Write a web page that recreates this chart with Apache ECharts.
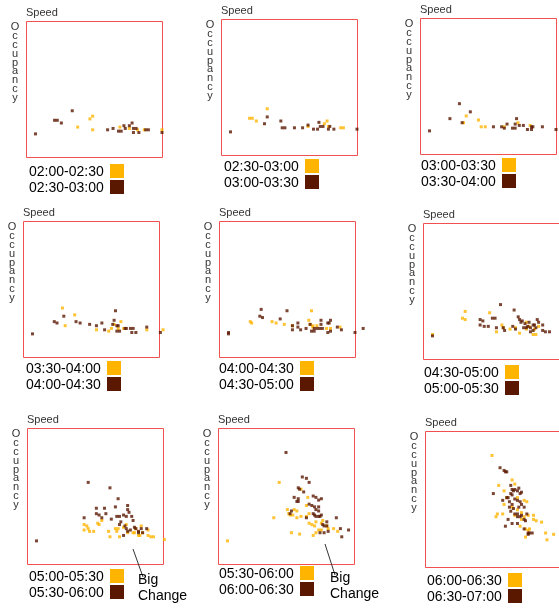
<!DOCTYPE html>
<html>
<head>
<meta charset="utf-8">
<script src="https://cdn.jsdelivr.net/npm/echarts@6/dist/echarts.min.js"></script>
<style>
  html, body { margin: 0; padding: 0; background: #fff; }
  #chart { width: 559px; height: 612px; }
</style>
</head>
<body>
<div id="chart"></div>
<script>
// half-hour periods, each panel compares period i (orange) with i+1 (brown)
const periods = ["02:00-02:30", "02:30-03:00", "03:00-03:30", "03:30-04:00", "04:00-04:30",
  "04:30-05:00", "05:00-05:30", "05:30-06:00", "06:00-06:30", "06:30-07:00"];

const p1First = [[47,28],[49,30],[38,22],[49,20],[69,22],[76,21],[82,20],[87,20],[100,20]];
const p1Second = [[7,17],[21,27],[23,27],[26,25],[34,34],[60,20],[64,21],[68,19],[70,19],[72,23],[73,21],[76,23],[78,25],[79,21],[81,21],[79,18],[83,18],[88,20],[90,20],[100,18]];

const p2First = [[21,27],[23,27],[26,25],[34,34],[64,21],[76,23],[78,25],[79,21],[88,20],[90,20]];
const p2Second = [[7,17],[32,23],[34,28],[44,25],[45,20],[47,20],[54,20],[60,20],[64,22],[68,19],[71,19],[72,24],[73,21],[75,21],[79,19],[80,21],[83,19],[100,19]];

const p3First = [[32,23],[34,28],[43,25],[45,20],[48,20],[62,20],[72,23],[81,21]];
const p3Second = [[7,17],[22,26],[29,37],[31,23],[37,31],[54,20],[60,20],[62,19],[64,22],[68,19],[70,22],[70,19],[71,26],[73,21],[76,21],[79,18],[82,20],[82,18],[83,20],[90,20],[100,18]];

const p4First = [[29,36],[38,31],[31,23],[54,20],[63,19],[65,21],[67,24],[72,26],[70,21],[74,21],[91,20],[103,20]];
const p4Second = [[7,17],[23,26],[25,25],[30,30],[39,26],[42,25],[49,24],[54,23],[58,25],[60,20],[68,34],[67,27],[66,24],[69,23],[70,23],[69,19],[71,19],[75,21],[76,21],[79,21],[81,21],[80,18],[83,18],[91,22],[101,18]];

const p5First = [[23,26],[24,25],[39,26],[42,25],[48,24],[54,23],[66,27],[68,34],[67,24],[69,23],[72,23],[69,22],[79,21],[82,21],[89,22]];
const p5Second = [[7,18],[7,17],[31,35],[30,30],[32,29],[45,28],[50,34],[54,23],[54,20],[58,25],[58,22],[60,20],[64,21],[67,24],[68,19],[70,19],[70,21],[72,21],[74,21],[75,27],[75,24],[76,21],[80,25],[81,25],[82,27],[80,18],[82,19],[87,22],[90,20],[100,18],[106,21]];

const p6First = [[7,18],[31,35],[29,30],[31,29],[49,34],[58,25],[59,23],[54,20],[64,22],[68,23],[71,19],[76,27],[76,22],[78,24],[81,18],[83,18],[82,22],[85,24]];
const p6Second = [[7,17],[57,40],[67,36],[42,29],[44,28],[42,25],[45,24],[48,24],[51,30],[53,30],[54,23],[59,23],[60,21],[66,24],[68,22],[70,31],[71,29],[72,27],[73,28],[74,23],[76,23],[75,26],[77,24],[78,27],[79,23],[81,21],[82,25],[83,23],[84,29],[85,27],[88,25],[88,21],[90,20],[93,20],[79,20],[81,25]];

const p7First = [[42,29],[44,28],[45,26],[42,25],[46,24],[49,24],[52,30],[53,29],[55,32],[60,24],[61,20],[66,24],[67,26],[68,20],[71,27],[73,29],[74,23],[78,23],[79,23],[80,26],[82,21],[83,21],[84,28],[85,23],[89,25],[89,21],[91,20],[93,20],[101,18],[65,26]];
const p7Second = [[7,17],[45,60],[61,56],[67,48],[65,42],[51,41],[57,41],[42,34],[51,37],[53,36],[58,37],[55,34],[62,33],[66,35],[68,35],[71,36],[74,43],[74,40],[75,38],[73,35],[77,35],[78,32],[68,29],[69,31],[72,28],[73,26],[71,21],[74,24],[76,25],[79,27],[80,26],[82,24],[84,26],[82,23],[85,23],[88,26]];

const p8First = [[45,60],[61,55],[66,49],[65,43],[51,40],[52,37],[53,36],[56,40],[58,39],[55,36],[58,34],[61,35],[65,35],[67,37],[41,34],[67,30],[69,29],[71,28],[72,31],[76,30],[77,32],[80,28],[81,26],[85,26],[88,24],[74,25],[72,23],[70,21],[54,23],[60,22],[7,17],[76,25]];
const p8Second = [[50,82],[65,63],[67,60],[62,64],[59,56],[60,55],[63,53],[56,49],[59,48],[59,46],[58,46],[70,50],[72,49],[76,48],[74,47],[67,44],[69,43],[71,42],[72,40],[74,42],[70,37],[71,36],[72,35],[74,35],[75,35],[76,36],[74,39],[65,34],[54,39],[53,37],[87,34],[80,31],[77,29],[78,28],[80,28],[81,24],[78,23],[75,23],[90,26],[91,20],[96,25]];

const p9First = [[50,82],[55,60],[59,56],[61,51],[59,46],[65,64],[67,61],[69,51],[74,49],[76,48],[54,39],[53,37],[58,39],[65,44],[67,38],[72,35],[74,37],[77,38],[81,38],[81,35],[83,34],[87,33],[71,30],[75,28],[77,27],[78,28],[75,22],[90,25],[96,24],[91,20],[72,40],[69,42]];
const p9Second = [[56,73],[59,71],[60,70],[61,70],[51,54],[58,49],[61,51],[62,51],[64,60],[65,57],[66,56],[67,57],[69,56],[64,54],[65,53],[70,58],[63,48],[65,46],[67,50],[69,49],[71,54],[72,55],[71,48],[72,46],[74,44],[63,44],[64,41],[66,43],[67,39],[69,39],[69,37],[71,37],[72,38],[74,35],[62,35],[65,32],[60,30],[69,32],[75,34],[74,28],[77,25],[77,24],[78,25],[80,25],[76,39],[70,44]];

const panelData = [
  [p1First, p1Second], [p2First, p2Second], [p3First, p3Second],
  [p4First, p4Second], [p5First, p5Second], [p6First, p6Second],
  [p7First, p7Second], [p8First, p8Second], [p9First, p9Second]
];

// box position of each small chart, and where its legend starts
const boxes = [
  { left: 26, top: 21, lx: 29, ly: 172 },
  { left: 221, top: 19, lx: 224, ly: 167 },
  { left: 420, top: 18, lx: 421, ly: 166 },
  { left: 23, top: 221, lx: 26, ly: 369 },
  { left: 219, top: 221, lx: 219, ly: 369 },
  { left: 423, top: 223, lx: 424, ly: 373 },
  { left: 27, top: 428, lx: 29, ly: 577 },
  { left: 218, top: 428, lx: 219, ly: 574 },
  { left: 425, top: 431, lx: 427, ly: 581 }
];
const boxSize = 136;

const orange = "#ffb400";
const brown = "#5a1800";
const font = "'Liberation Sans', Arial, sans-serif";

var myChart = echarts.init(document.getElementById("chart"));

const grids = [], xAxes = [], yAxes = [], series = [], graphics = [];

boxes.forEach((b, i) => {
  grids.push({ left: b.left, top: b.top, width: boxSize, height: boxSize });
  xAxes.push({ gridIndex: i, type: "value", min: 0, max: 100, show: false });
  yAxes.push({ gridIndex: i, type: "value", min: 0, max: 100, show: false });

  [orange, brown].forEach((c, k) => {
    series.push({
      type: "scatter",
      name: periods[i + k],
      xAxisIndex: i, yAxisIndex: i,
      data: panelData[i][k],
      symbol: "rect", symbolSize: 3,
      itemStyle: { color: c },
      clip: false,
      silent: true
    });
  });

  // red frame, drawn on the half pixel so the 1px line stays sharp
  graphics.push({
    type: "rect", z: 0, silent: true,
    shape: { x: b.left + 0.5, y: b.top + 0.5, width: boxSize, height: boxSize },
    style: { fill: null, stroke: "#f05050", lineWidth: 1 }
  });
  graphics.push({
    type: "text", left: b.left, top: b.top - 14,
    style: { text: "Speed", font: "11px " + font, fill: "#333" }
  });
  graphics.push({
    type: "text", x: b.left - 11, y: b.top + 2,
    style: {
      text: "Occupancy".split("").join("\n"), font: "11px " + font, fill: "#333",
      align: "center", verticalAlign: "top", lineHeight: 8.8
    }
  });
  [orange, brown].forEach((c, k) => {
    const y = b.ly + k * 16;
    graphics.push({
      type: "text", x: b.lx, y: y,
      style: { text: periods[i + k], font: "14px " + font, fill: "#000", verticalAlign: "middle" }
    });
    graphics.push({
      type: "rect", shape: { x: b.lx + 81, y: y - 8, width: 14, height: 14 },
      style: { fill: c }
    });
  });
});

// "Big Change" callouts on the two bottom-left panels
[[133, 549, 143, 577, 138, 588], [325, 544, 335, 575, 330, 586]].forEach((a) => {
  graphics.push({
    type: "line", shape: { x1: a[0], y1: a[1], x2: a[2], y2: a[3] },
    style: { stroke: "#333", lineWidth: 1 }
  });
  graphics.push({
    type: "text", x: a[4], y: a[5],
    style: { text: "Big\nChange", font: "14px " + font, fill: "#000", verticalAlign: "middle", lineHeight: 16 }
  });
});

myChart.setOption({
  animation: false,
  grid: grids,
  xAxis: xAxes,
  yAxis: yAxes,
  series: series,
  graphic: graphics
});
</script>
</body>
</html>
